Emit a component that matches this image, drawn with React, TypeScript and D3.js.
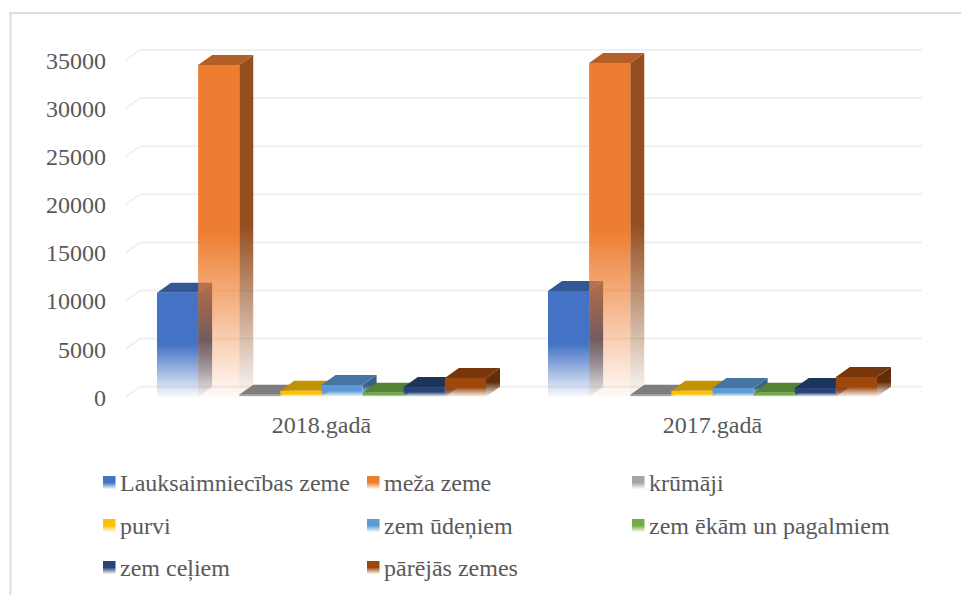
import React from 'react';
import * as d3 from 'd3';

const years = ['2018.gadā', '2017.gadā'];
const seriesNames = [
  'Lauksaimniecības zeme',
  'meža zeme',
  'krūmāji',
  'purvi',
  'zem ūdeņiem',
  'zem ēkām un pagalmiem',
  'zem ceļiem',
  'pārējās zemes',
];
const seriesColors = ['#4472C4', '#ED7D31', '#A5A5A5', '#FFC000', '#5B9BD5', '#70AD47', '#264478', '#9E480E'];

// one value per series, same order as seriesNames
const values2018 = [10810, 34480, 200, 620, 1220, 400, 1000, 1950];
const values2017 = [10990, 34700, 200, 620, 900, 400, 900, 2050];
const yearValues = [values2018, values2017];

const yTicks = [0, 5000, 10000, 15000, 20000, 25000, 30000, 35000];

const legendCols = [103, 367, 632];
const legendRows = [476, 519, 561];

const depthX = 14;
const depthY = 10;
const serif = '"Liberation Serif", "Times New Roman", serif';
const textColor = '#595959';

const y = d3.scaleLinear().domain([0, 35000]).range([396.7, 60]);
const x0 = d3.scaleBand().domain(years).range([126, 908]);
const x1 = d3.scaleBand().domain(seriesNames).range([31, 360]);

const poly = d3.line();

const shade = (c: string, k: number) => {
  const r = d3.rgb(c);
  return d3.rgb(r.r * k, r.g * k, r.b * k).formatHex();
};

const Fade = ({ id, color }: { id: string; color: string }) => (
  <linearGradient id={id} x1="0" y1="0" x2="0" y2="1">
    <stop offset="0" stopColor={color} stopOpacity={1} />
    <stop offset="0.5" stopColor={color} stopOpacity={1} />
    <stop offset="1" stopColor={color} stopOpacity={0.04} />
  </linearGradient>
);

const Bar = ({ year, i, v }: { year: string; i: number; v: number }) => {
  const left = x0(year)! + x1(seriesNames[i])!;
  const right = left + x1.bandwidth();
  const top = y(v);
  const base = y(0);
  const side = poly([
    [right, top],
    [right + depthX, top - depthY],
    [right + depthX, base - depthY],
    [right, base],
  ])! + 'Z';
  const lid = poly([
    [left, top],
    [left + depthX, top - depthY],
    [right + depthX, top - depthY],
    [right, top],
  ])! + 'Z';
  return (
    <g>
      <path d={side} fill={`url(#side${i})`} />
      <path d={lid} fill={shade(seriesColors[i], 0.76)} />
      <rect x={left} y={top} width={right - left} height={Math.max(base - top, 0)} fill={`url(#front${i})`} />
    </g>
  );
};

export default function App() {
  const [plotLeft, plotRight] = x0.range();
  return (
    <svg
      width={961}
      height={595}
      style={{ position: 'absolute', left: 0, top: 0, background: '#fff' }}
      fontFamily={serif}
    >
      <defs>
        {seriesColors.map((c, i) => (
          <React.Fragment key={c}>
            <Fade id={`front${i}`} color={c} />
            <Fade id={`side${i}`} color={shade(c, 0.63)} />
          </React.Fragment>
        ))}
      </defs>

      <path d="M961,13H10.5V595" fill="none" stroke="#dcdcdc" strokeWidth={2} />

      {yTicks.map((t) => (
        <path
          key={t}
          d={poly([
            [plotLeft, y(t)],
            [plotLeft + depthX, y(t) - depthY],
            [plotRight + depthX, y(t) - depthY],
          ])!}
          fill="none"
          stroke="#f0f0f0"
          strokeWidth={2}
        />
      ))}

      {years.map((year, k) =>
        seriesNames.map((name, i) => <Bar key={year + name} year={year} i={i} v={yearValues[k][i]} />)
      )}

      {yTicks.map((t) => (
        <text key={t} x={106} y={y(t) + 1} dy="0.33em" textAnchor="end" fontSize={24} fill={textColor}>
          {t}
        </text>
      ))}

      {years.map((year) => (
        <text key={year} x={x0(year)! + x0.bandwidth() / 2} y={433} textAnchor="middle" fontSize={24} fill={textColor}>
          {year}
        </text>
      ))}

      {seriesNames.map((name, i) => {
        const lx = legendCols[i % 3];
        const ly = legendRows[Math.floor(i / 3)];
        return (
          <g key={name}>
            <rect x={lx} y={ly} width={12.5} height={13} fill={`url(#front${i})`} />
            <text x={lx + 17} y={ly + 15} fontSize={24} fill={textColor}>
              {name}
            </text>
          </g>
        );
      })}
    </svg>
  );
}
